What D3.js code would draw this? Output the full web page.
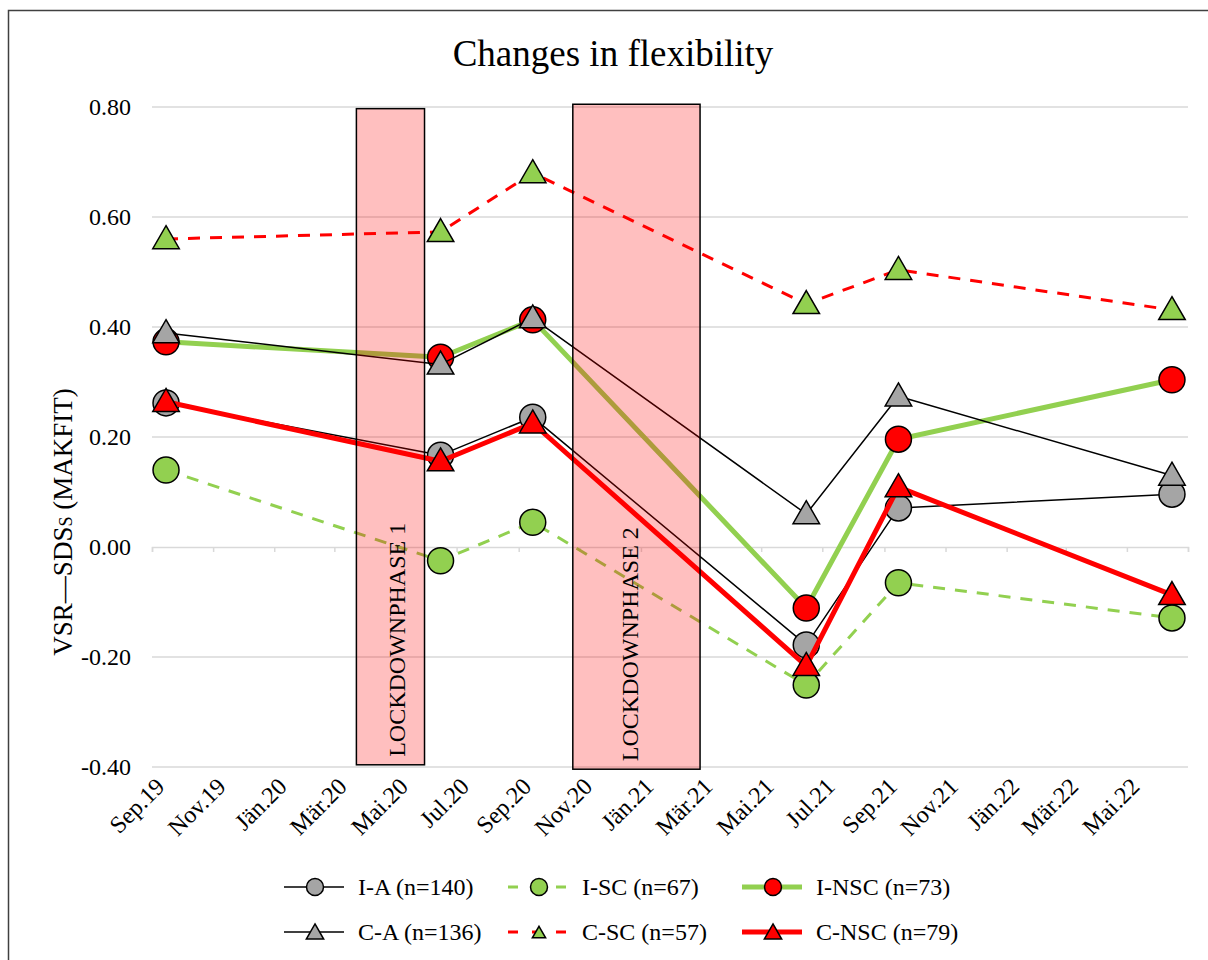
<!DOCTYPE html>
<html>
<head>
<meta charset="utf-8">
<script src="https://cdn.jsdelivr.net/npm/d3@7"></script>
<style>
  body { margin: 0; background: #fff; }
  text { font-family: "Liberation Serif", "Times New Roman", serif; fill: #000; }
</style>
</head>
<body>
<script>
// survey dates (mid-month) and the values of each group
const dates = ['2019-09-15', '2020-06-15', '2020-09-15', '2021-06-15', '2021-09-15', '2022-06-15'];

const iA   = [0.262, 0.167, 0.236, -0.178, 0.071, 0.096];
const iSC  = [0.140, -0.025, 0.045, -0.251, -0.065, -0.129];
const iNSC = [0.373, 0.345, 0.413, -0.111, 0.196, 0.304];
const cA   = [0.389, 0.332, 0.416, 0.060, 0.274, 0.130];
const cSC  = [0.560, 0.573, 0.680, 0.442, 0.504, 0.431];
const cNSC = [0.264, 0.156, 0.225, -0.216, 0.109, -0.087];

const tickLabels = ['Sep.19', 'Nov.19', 'Jän.20', 'Mär.20', 'Mai.20', 'Jul.20', 'Sep.20', 'Nov.20',
  'Jän.21', 'Mär.21', 'Mai.21', 'Jul.21', 'Sep.21', 'Nov.21', 'Jän.22', 'Mär.22', 'Mai.22'];
const yTicks = [-0.4, -0.2, 0, 0.2, 0.4, 0.6, 0.8];

// lockdown boxes
const lockdownNames = ['LOCKDOWNPHASE 1', 'LOCKDOWNPHASE 2'];
const lockdownStart = ['2020-03-23', '2020-10-25'];
const lockdownEnd   = ['2020-05-30', '2021-03-01'];
const lockdownTop   = [0.797, 0.805];
const lockdownBottom = [-0.396, -0.404];
const lockdownTextDx = [7, -6];

const series = [
  { name: 'I-A (n=140)',  values: iA,   line: '#000',    width: 1.5, dash: null,   shape: 'circle',   fill: '#a5a5a5' },
  { name: 'I-SC (n=67)',  values: iSC,  line: '#92d050', width: 3,   dash: '12,10', shape: 'circle',  fill: '#92d050' },
  { name: 'I-NSC (n=73)', values: iNSC, line: '#92d050', width: 5,   dash: null,   shape: 'circle',   fill: '#ff0000' },
  { name: 'C-A (n=136)',  values: cA,   line: '#000',    width: 1.5, dash: null,   shape: 'triangle', fill: '#a5a5a5' },
  { name: 'C-SC (n=57)',  values: cSC,  line: '#ff0000', width: 3,   dash: '12,10', shape: 'triangle', fill: '#92d050' },
  { name: 'C-NSC (n=79)', values: cNSC, line: '#ff0000', width: 5,   dash: null,   shape: 'triangle', fill: '#ff0000' }
];

const W = 1208, H = 960;
const parse = d3.utcParse('%Y-%m-%d');

const svg = d3.select('body').append('svg')
  .attr('width', W)
  .attr('height', H);

// outer frame
svg.append('rect')
  .attr('x', 8.5).attr('y', 10.5)
  .attr('width', W + 20).attr('height', H + 20)
  .attr('fill', 'none')
  .attr('stroke', '#404040')
  .attr('stroke-width', 1.5);

const x = d3.scaleUtc()
  .domain([new Date(Date.UTC(2019, 8, 1)), new Date(Date.UTC(2022, 6, 1))])
  .range([152, 1188]);

const y = d3.scaleLinear()
  .domain([-0.4, 0.8])
  .range([767, 107]);

// title
svg.append('text')
  .attr('x', 613).attr('y', 66)
  .attr('text-anchor', 'middle')
  .style('font-size', '37px')
  .text('Changes in flexibility');

// gridlines
svg.append('g').selectAll('line')
  .data(yTicks.filter(d => d !== 0))
  .enter().append('line')
  .attr('x1', 152).attr('x2', 1188)
  .attr('y1', d => y(d)).attr('y2', d => y(d))
  .attr('stroke', '#d9d9d9')
  .attr('stroke-width', 1.5);

// y axis labels (plain hyphen for negatives, like the original)
const fmt = d3.format('.2f');
svg.append('g').selectAll('text')
  .data(yTicks)
  .enter().append('text')
  .attr('x', 131)
  .attr('y', d => y(d))
  .attr('dy', '0.35em')
  .attr('text-anchor', 'end')
  .style('font-size', '24px')
  .text(d => fmt(d).replace('−', '-'));

// y title
const yTitle = svg.append('text')
  .attr('transform', 'translate(72,522) rotate(-90)')
  .attr('text-anchor', 'middle')
  .style('font-size', '27px');
yTitle.append('tspan').text('VSR—SDS');
yTitle.append('tspan').style('font-size', '18px').text('S');
yTitle.append('tspan').text(' (MAKFIT)');

// x axis at zero, with tick marks
const tickDates = d3.utcMonth.every(2).range(x.domain()[0], new Date(Date.UTC(2022, 6, 2)));
const xAxis = d3.axisBottom(x)
  .tickValues(tickDates)
  .tickSize(5)
  .tickFormat('');
const gx = svg.append('g')
  .attr('transform', `translate(0,${y(0)})`)
  .call(xAxis);
gx.selectAll('path, line')
  .attr('stroke', '#d9d9d9')
  .attr('stroke-width', 1.5);

// x tick labels at the bottom, turned 45 degrees
svg.append('g').selectAll('text')
  .data(tickDates.slice(0, tickLabels.length))
  .enter().append('text')
  .attr('transform', d => 'translate(' + (x(d) + 14) + ',788) rotate(-45)')
  .attr('text-anchor', 'end')
  .style('font-size', '24px')
  .text((d, i) => tickLabels[i]);

// series: line then markers, in order
const tri = d3.symbol().type(d3.symbolTriangle);

function marker(g, shape, fill, cx, cy, size) {
  if (shape === 'circle') {
    g.append('circle')
      .attr('cx', cx).attr('cy', cy)
      .attr('r', size / 2)
      .attr('fill', fill)
      .attr('stroke', '#000')
      .attr('stroke-width', 1.5);
  } else {
    g.append('path')
      .attr('d', tri.size(size * size * 0.45)())
      .attr('transform', `translate(${cx},${cy + 2})`)
      .attr('fill', fill)
      .attr('stroke', '#000')
      .attr('stroke-width', 1.5);
  }
}

const lineGen = d3.line()
  .x((d, i) => x(parse(dates[i])))
  .y(d => y(d));

series.forEach(function(s) {
  const g = svg.append('g');
  g.append('path')
    .attr('d', lineGen(s.values))
    .attr('fill', 'none')
    .attr('stroke', s.line)
    .attr('stroke-width', s.width)
    .attr('stroke-dasharray', s.dash)
    .attr('stroke-linejoin', 'round');
  s.values.forEach(function(v, i) {
    marker(g, s.shape, s.fill, x(parse(dates[i])), y(v), 26);
  });
});

// lockdown boxes (semi transparent, over the lines)
lockdownNames.forEach(function(name, i) {
  const x0 = x(parse(lockdownStart[i])), x1 = x(parse(lockdownEnd[i]));
  const y0 = y(lockdownTop[i]), y1 = y(lockdownBottom[i]);
  svg.append('rect')
    .attr('x', x0).attr('y', y0)
    .attr('width', x1 - x0).attr('height', y1 - y0)
    .attr('fill', '#ff0000')
    .attr('fill-opacity', 0.25)
    .attr('stroke', '#000')
    .attr('stroke-width', 1.5);
  svg.append('text')
    .attr('transform', 'translate(' + ((x0 + x1) / 2 + lockdownTextDx[i] + 8) + ',' + (y1 - 8) + ') rotate(-90)')
    .attr('text-anchor', 'start')
    .style('font-size', '24px')
    .text(name);
});

// legend
const legX = [284, 508, 742];
const legY = [887, 932];
series.forEach(function(s, i) {
  const lx = legX[i % 3], ly = legY[Math.floor(i / 3)];
  const g = svg.append('g');
  g.append('line')
    .attr('x1', lx).attr('x2', lx + 60)
    .attr('y1', ly).attr('y2', ly)
    .attr('stroke', s.line)
    .attr('stroke-width', s.width)
    .attr('stroke-dasharray', s.dash ? '10,14' : null);
  marker(g, s.shape, s.fill, lx + 31, ly, s.dash && s.shape === 'triangle' ? 13 : 17);
  g.append('text')
    .attr('x', lx + 74).attr('y', ly)
    .attr('dy', '0.35em')
    .style('font-size', '24px')
    .text(s.name);
});
</script>
</body>
</html>
